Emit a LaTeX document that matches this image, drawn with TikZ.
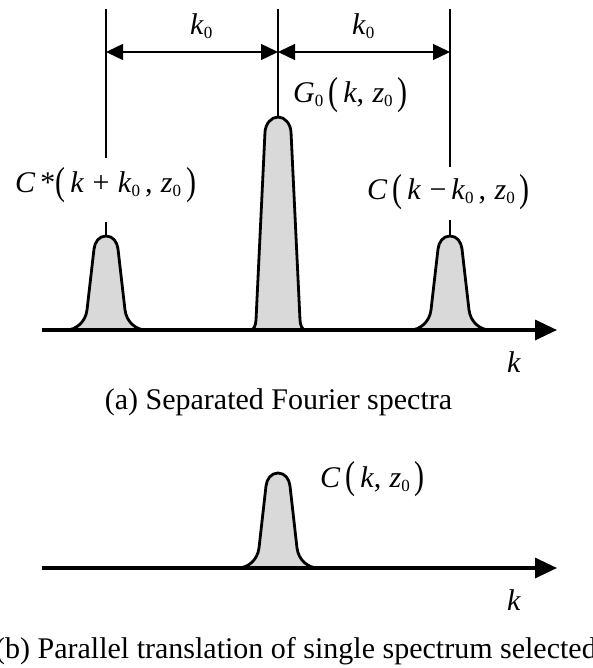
\documentclass[tikz,border=0pt]{standalone}
\usepackage{fontspec}
\usepackage{graphicx}
\setmainfont{Liberation Serif}
\usetikzlibrary{arrows.meta}
\newcommand{\zs}{\raisebox{-4pt}{\fontsize{17}{17}\selectfont 0}}
\newcommand{\lpar}{\raisebox{-1.5pt}{\scalebox{1}[1.3]{(}}}
\newcommand{\rpar}{\raisebox{-1.5pt}{\scalebox{1}[1.3]{)}}}
\newcommand{\iv}[1]{\textit{#1}}
\begin{document}
\begin{tikzpicture}[x=1pt,y=-1pt,
  lbl/.style={inner sep=0pt,anchor=base west,font=\fontsize{30}{32}\selectfont},
  captext/.style={inner sep=0pt,anchor=base,font=\fontsize{30}{32}\selectfont},
  peak/.style={draw=black,line width=2.8pt,fill=gray!30,line join=round},
  axisline/.style={line width=3.4pt,-{Triangle[length=22pt,width=20pt]}},
  guide/.style={line width=1.2pt},
  dim/.style={line width=1.3pt,{Triangle[length=17pt,width=16pt]}-{Triangle[length=17pt,width=16pt]}}]
\useasboundingbox (0,0) rectangle (593,668);
% ---------- (a) ----------
\begin{scope}[shift={(106,330)}]
\draw[peak] (-40,0) .. controls (-30,0) and (-20.5,-8) .. (-19,-20) -- (-12,-81) .. controls (-11.2,-88) and (-7,-94) .. (0,-94) .. controls (7,-94) and (11.2,-88) .. (12,-81) -- (19,-20) .. controls (20.5,-8) and (30,0) .. (40,0);
\end{scope}
\begin{scope}[shift={(450,330)}]
\draw[peak] (-40,0) .. controls (-30,0) and (-20.5,-8) .. (-19,-20) -- (-12,-81) .. controls (-11.2,-88) and (-7,-94) .. (0,-94) .. controls (7,-94) and (11.2,-88) .. (12,-81) -- (19,-20) .. controls (20.5,-8) and (30,0) .. (40,0);
\end{scope}
\begin{scope}[shift={(278,330)}]
\draw[peak] (-28,0) .. controls (-24,0) and (-22.5,-4) .. (-22,-10) -- (-13,-198) .. controls (-12.5,-206) and (-7,-213) .. (0,-213) .. controls (7,-213) and (12.5,-206) .. (13,-198) -- (22,-10) .. controls (22.5,-4) and (24,0) .. (28,0);
\end{scope}
\coordinate (ax0) at (42,330);
\coordinate (ax1) at (557,330);
\draw[axisline] (ax0) -- (ax1);
% guide lines
\coordinate (lt) at (106,9);  \coordinate (lm) at (106,158); \coordinate (lb) at (106,222); \coordinate (lp) at (106,236);
\coordinate (ct) at (278,9);  \coordinate (cp) at (278,117);
\coordinate (rt) at (450,9);  \coordinate (rm) at (450,167); \coordinate (rb) at (450,220); \coordinate (rp) at (450,236);
\draw[guide] (lt) -- (lm) (lb) -- (lp);
\draw[guide] (ct) -- (cp);
\draw[guide] (rt) -- (rm) (rb) -- (rp);
\coordinate (dl) at (106,52); \coordinate (dc) at (278,52); \coordinate (dr) at (450,52);
\draw[dim] (dl) -- (dc);
\draw[dim] (dc) -- (dr);
\node[lbl] (k0a) at (190,35) {\iv{k}\zs};
\node[lbl] (k0b) at (352,35) {\iv{k}\zs};
\node[lbl] (g0) at (293,103) {\iv{G}\zs\,\lpar\,\iv{k},\;\iv{z}\zs\,\rpar};
\node[lbl] (cst) at (15,193) {\iv{C}\,*\lpar\,\iv{k}\;+\;\iv{k}\zs\,,\;\iv{z}\zs\,\rpar};
\node[lbl] (cmi) at (367,200) {\iv{C}\,\lpar\,\iv{k}\;\textminus\,\iv{k}\zs\,,\;\iv{z}\zs\,\rpar};
\node[lbl] (ka) at (507,372) {\iv{k}};
\node[captext] (capa) at (278.5,409) {(a) Separated Fourier spectra};
% ---------- (b) ----------
\begin{scope}[shift={(278,568)}]
\draw[peak] (-40,0) .. controls (-30,0) and (-20.5,-8) .. (-19,-20) -- (-12,-82) .. controls (-11.2,-89) and (-7,-95) .. (0,-95) .. controls (7,-95) and (11.2,-89) .. (12,-82) -- (19,-20) .. controls (20.5,-8) and (30,0) .. (40,0);
\end{scope}
\coordinate (bx0) at (42,568);
\coordinate (bx1) at (557,568);
\draw[axisline] (bx0) -- (bx1);
\node[lbl] (ckz) at (320,487) {\iv{C}\,\lpar\,\iv{k},\;\iv{z}\zs\,\rpar};
\node[lbl] (kb) at (507,610) {\iv{k}};
\node[captext,anchor=base west] (capb) at (-5,658) {(b) Parallel translation of single spectrum selected};
\end{tikzpicture}
\end{document}
